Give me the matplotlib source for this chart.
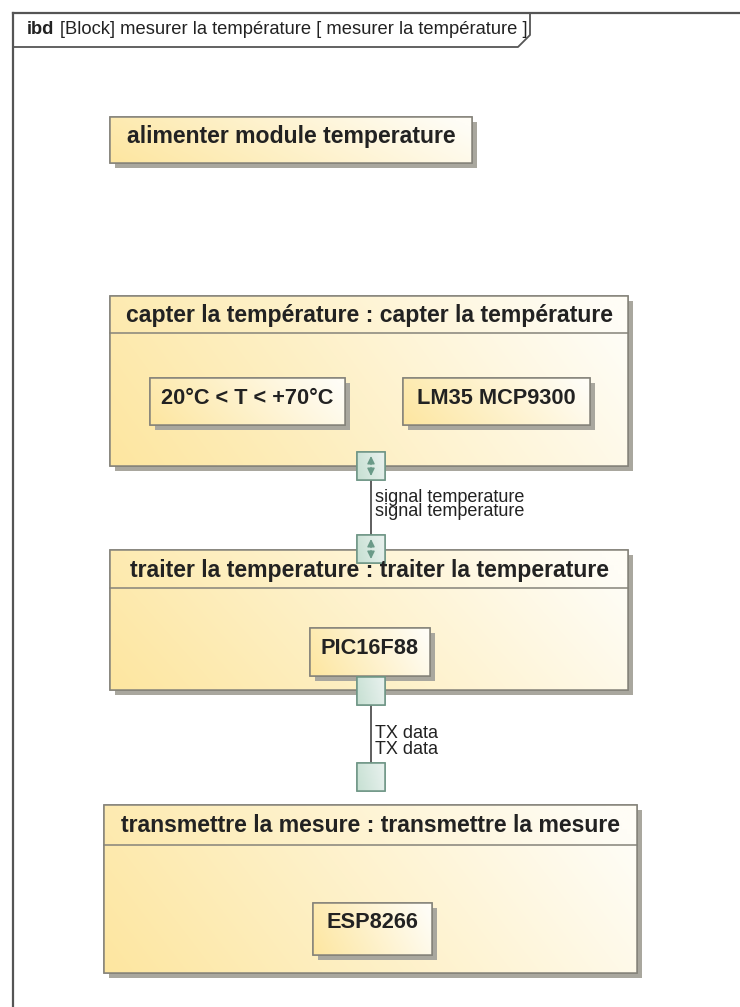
"""
SysML ibd : mesurer la température (redessiné avec matplotlib)
"""
import matplotlib.pyplot as plt
import numpy as np
from matplotlib.colors import to_rgb
from matplotlib.patches import Rectangle

plt.rcParams["font.family"] = ["Liberation Sans", "DejaVu Sans"]

# --- contenu du diagramme ---
HEADER_KIND = "ibd"
HEADER_TEXT = "[Block] mesurer la température [ mesurer la température ]"

BLOCK_TITLES = [
    "alimenter module temperature",
    "capter la température : capter la température",
    "traiter la temperature : traiter la temperature",
    "transmettre la mesure : transmettre la mesure",
]
PART_LABELS = ["20°C < T < +70°C", "LM35 MCP9300", "PIC16F88", "ESP8266"]
CONNECTOR_LABELS = [
    ["signal temperature", "signal temperature"],
    ["TX data", "TX data"],
]

# --- mise en page (pixels, origine en haut à gauche) ---
W, H = 740, 1007
# x, y, largeur, hauteur, y du séparateur de titre
BLOCK_BOXES = [
    (110, 117, 362, 46, None),
    (110, 296, 518, 170, 333),
    (110, 550, 518, 140, 588),
    (104, 805, 533, 168, 845),
]
PART_BOXES = [(150, 378, 195, 47), (403, 378, 187, 47), (310, 628, 120, 48), (313, 903, 119, 52)]
PORT_SIZE = 28
PORTS = [(357, 452, True), (357, 535, True), (357, 677, False), (357, 763, False)]
CONNECTORS = [(0, 1), (2, 3)]
LABEL_Y = [[497, 512], [734, 749]]

YELLOW = "#fde6a0"
CREAM = "#fffdf6"
EDGE = "#85837a"
SHADOW = "#a9a79e"
TEXT = "#222222"


def gradient(ax, x, y, w, h, c0, c1, clip):
    xs = np.linspace(0, 1, 128)
    ys = np.linspace(0, 1, 32)
    t = np.clip(0.85 * xs[None, :] + 0.2 * (1 - ys[:, None]), 0, 1)[..., None]
    img = (1 - t) * np.array(to_rgb(c0)) + t * np.array(to_rgb(c1))
    im = ax.imshow(img, extent=(x, x + w, y + h, y), aspect="auto", zorder=clip.get_zorder(),
                   interpolation="bilinear")
    im.set_clip_path(clip)


def box(ax, x, y, w, h, z=2, shadow=True):
    if shadow:
        ax.add_patch(Rectangle((x + 5, y + 5), w, h, facecolor=SHADOW, edgecolor="none", zorder=z - 0.5))
    r = Rectangle((x, y), w, h, facecolor="none", edgecolor=EDGE, linewidth=1.1, zorder=z)
    ax.add_patch(r)
    gradient(ax, x, y, w, h, YELLOW, CREAM, r)
    ax.add_patch(Rectangle((x, y), w, h, facecolor="none", edgecolor=EDGE, linewidth=1.1, zorder=z + 0.1))


def port(ax, x, y, arrows):
    s = PORT_SIZE
    r = Rectangle((x, y), s, s, facecolor="none", edgecolor="#6e9585", linewidth=1.1, zorder=6)
    ax.add_patch(r)
    gradient(ax, x, y, s, s, "#c6e0d2", "#e8f1ee", r)
    ax.add_patch(Rectangle((x, y), s, s, facecolor="none", edgecolor="#6e9585", linewidth=1.1, zorder=6.2))
    if arrows:
        cx, cy = x + s / 2, y + s / 2
        kw = dict(arrowstyle="-|>,head_width=0.22,head_length=0.45", color="#6a9a88", lw=1.0,
                  shrinkA=0, shrinkB=0)
        ax.annotate("", xy=(cx, y + 4), xytext=(cx, cy - 1.5), arrowprops=kw, zorder=7)
        ax.annotate("", xy=(cx, y + s - 4), xytext=(cx, cy + 1.5), arrowprops=kw, zorder=7)


def main():
    fig = plt.figure(figsize=(W / 100, H / 100), dpi=100)
    ax = fig.add_axes([0, 0, 1, 1])
    ax.set_xlim(0, W)
    ax.set_ylim(H, 0)
    ax.axis("off")

    # cadre du diagramme
    fc = "#555555"
    ax.plot([13, 13], [13, H], color=fc, lw=1.6, zorder=1)
    ax.plot([13, W], [13, 13], color=fc, lw=1.6, zorder=1)
    ax.plot([13, 518, 530, 530], [47, 47, 35, 13], color=fc, lw=1.3, zorder=1)
    t = ax.text(27, 30, HEADER_KIND, fontsize=13.2, fontweight="bold", color=TEXT, va="center")
    fig.canvas.draw()
    bb = t.get_window_extent().transformed(ax.transData.inverted())
    ax.text(bb.x1 + 6, 30, HEADER_TEXT, fontsize=13.2, color=TEXT, va="center")

    # blocs
    for (x, y, w, h, sep), title in zip(BLOCK_BOXES, BLOCK_TITLES):
        box(ax, x, y, w, h, z=2)
        if sep is not None:
            ax.plot([x, x + w], [sep, sep], color=EDGE, lw=1.1, zorder=3)
            ty = (y + sep) / 2 + 1
        else:
            ty = y + 19
        ax.text(x + w / 2, ty, title, fontsize=16.6, fontweight="bold", color=TEXT,
                ha="center", va="center", zorder=8)

    for (x, y, w, h), label in zip(PART_BOXES, PART_LABELS):
        box(ax, x, y, w, h, z=4)
        ax.text(x + w / 2, y + 20, label, fontsize=15.7, fontweight="bold", color=TEXT,
                ha="center", va="center", zorder=5)

    # connecteurs et ports
    for (a, b), labels, ly in zip(CONNECTORS, CONNECTOR_LABELS, LABEL_Y):
        xa, ya, _ = PORTS[a]
        xb, yb, _ = PORTS[b]
        cx = xa + PORT_SIZE / 2
        ax.plot([cx, cx], [ya + PORT_SIZE, yb], color="#333333", lw=1.1, zorder=5)
        for lab, yy in zip(labels, ly):
            ax.text(cx + 4, yy, lab, fontsize=13, color=TEXT, va="center", zorder=5)

    for x, y, arrows in PORTS:
        port(ax, x, y, arrows)

    fig.savefig("out.png", dpi=100, facecolor="white")
    plt.close(fig)


if __name__ == "__main__":
    main()
